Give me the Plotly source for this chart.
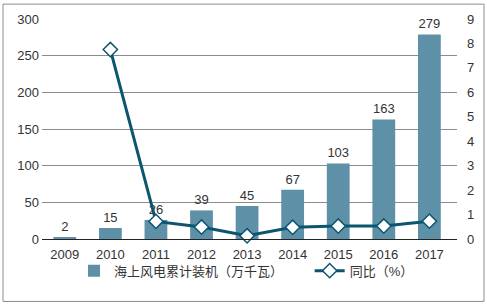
import plotly.graph_objects as go

years = ["2009", "2010", "2011", "2012", "2013", "2014", "2015", "2016", "2017"]
capacity = [2, 15, 26, 39, 45, 67, 103, 163, 279]
yoy_years = ["2010", "2011", "2012", "2013", "2014", "2015", "2016", "2017"]
yoy = [7.75, 0.72, 0.49, 0.13, 0.48, 0.53, 0.53, 0.73]

W, H = 487, 307
L, R, T, B = 42, 30, 17, 68
pw, ph = W - L - R, H - T - B

def px(x):
    return (x - L) / pw

def py(y):
    return (H - B - y) / ph

fig = go.Figure()
fig.add_trace(go.Bar(
    x=years, y=capacity, name="海上风电累计装机（万千瓦）" + "\u00a0" * 6,
    marker=dict(color="#5E91A8", line=dict(width=0)),
    width=0.5,
    text=[str(v) for v in capacity], textposition="outside",
    textfont=dict(size=13, color="#333333"), cliponaxis=False,
))
fig.add_trace(go.Scatter(
    x=yoy_years, y=yoy, name="同比（%）", yaxis="y2",
    mode="lines+markers",
    line=dict(color="#0B566E", width=3),
    marker=dict(symbol="diamond", size=11, color="white",
                line=dict(color="#0B566E", width=1.5)),
    cliponaxis=False,
))

fig.update_layout(
    width=W, height=H,
    margin=dict(l=L, r=R, t=T, b=B),
    paper_bgcolor="white", plot_bgcolor="white",
    font=dict(family="Liberation Sans, Arial, Noto Sans CJK SC", size=12, color="#333333"),
    showlegend=True,
    legend=dict(orientation="h", x=px(74), xanchor="left", y=py(271),
                yanchor="middle", font=dict(size=13, color="#333333"),
                bgcolor="rgba(0,0,0,0)",
                itemwidth=30, tracegroupgap=0),
    xaxis=dict(type="category", showgrid=False, showline=True, linecolor="#222222",
               linewidth=1, ticks="", ticklabelstandoff=3,
               tickfont=dict(size=13, color="#333333")),
    yaxis=dict(range=[0, 300], dtick=50, showgrid=True, gridcolor="#8C8C8C",
               gridwidth=1, zeroline=False, showline=False, ticks="",
               ticklabelstandoff=2,
               tickfont=dict(size=13, color="#333333")),
    yaxis2=dict(range=[0, 9], dtick=1, overlaying="y", side="right",
                showgrid=False, zeroline=False, showline=False,
                ticks="", ticklabelstandoff=9, tickfont=dict(size=13, color="#333333")),
    bargap=0.5,
    shapes=[dict(type="rect", xref="paper", yref="paper",
                 x0=px(3), x1=px(484), y0=py(302), y1=py(2),
                 line=dict(color="#8C8C8C", width=1), layer="below")],
)

fig.write_html("out.html")
